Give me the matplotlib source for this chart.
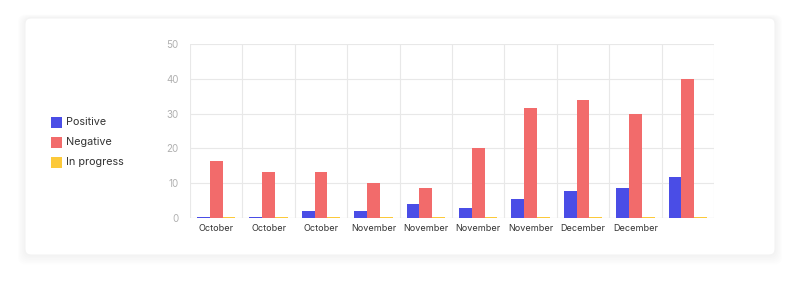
import matplotlib.pyplot as plt
import numpy as np
from matplotlib.patches import FancyBboxPatch, Rectangle

categories = ["October", "October", "October", "November", "November", "November",
              "November", "December", "December", ""]
positive = [0.2, 0.2, 2.0, 2.0, 4.0, 2.8, 5.5, 7.8, 8.7, 11.9]
negative = [16.5, 13.2, 13.2, 10.0, 8.7, 20.0, 31.5, 34.0, 30.0, 40.0]
in_progress = [0.3, 0.3, 0.3, 0.3, 0.3, 0.3, 0.3, 0.3, 0.3, 0.3]
series_names = ["Positive", "Negative", "In progress"]
colors = ["#4a4de6", "#f26b6b", "#fcc93a"]
yticks = [0, 10, 20, 30, 40, 50]

plt.rcParams['font.family'] = ['Inter', 'DejaVu Sans']

W, H = 800, 289
fig = plt.figure(figsize=(8, 2.89), dpi=100)
fig.patch.set_facecolor("white")

# card with soft shadow
bg = fig.add_axes([0, 0, 1, 1])
bg.set_xlim(0, W)
bg.set_ylim(H, 0)
bg.axis("off")
for i in range(6):
    pad = 12 - 2 * i
    bg.add_patch(FancyBboxPatch((25 - pad * 0.6, 18 - pad * 0.3), 750 + pad * 1.2, 237 + pad * 1.1,
                                boxstyle="round,pad=0,rounding_size=8", fc="black", ec="none",
                                alpha=0.006, zorder=1))
bg.add_patch(FancyBboxPatch((25, 18), 750, 237, boxstyle="round,pad=0,rounding_size=6",
                            fc="white", ec="#f3f3f3", lw=0.8, zorder=2))

# legend
for i, (name, c) in enumerate(zip(series_names, colors)):
    y = 122 + 20 * i
    bg.add_patch(Rectangle((51, y - 5.5), 11, 11, fc=c, ec="none", zorder=3))
    bg.text(66, y, name, fontsize=7.8, color="#333333", va="center", ha="left", zorder=3)

ax = fig.add_axes([190 / W, 1 - 218 / H, (714 - 190) / W, (218 - 44) / H])
ax.set_facecolor("none")
n = len(categories)
x = np.arange(n)
bw = 0.245
for k, (vals, c) in enumerate(zip([positive, negative, in_progress], colors)):
    ax.bar(x + (k - 1) * bw, vals, width=bw, color=c, zorder=3)

ax.set_xlim(-0.5, n - 0.5)
ax.set_ylim(0, 50)
ax.set_yticks(yticks)
ax.set_yticklabels([str(v) for v in yticks], fontsize=7, color="#b0b0b0")
ax.set_xticks(x)
ax.set_xticklabels(categories, fontsize=6.5, color="#333333")
ax.set_xticks(np.arange(-0.5, n, 1), minor=True)
ax.grid(False)
ax.grid(True, which="minor", axis="x", color="#e8e8e8", lw=0.8, zorder=0)
ax.grid(True, which="major", axis="y", color="#e8e8e8", lw=0.8, zorder=0)
ax.tick_params(axis="both", which="both", length=0)
ax.tick_params(axis="y", pad=8)
ax.tick_params(axis="x", pad=4)
for s in ax.spines.values():
    s.set_visible(False)
ax.axhline(0, color="#e0e0e0", lw=0.8, zorder=1)

fig.savefig("out.png", dpi=100, facecolor="white")
